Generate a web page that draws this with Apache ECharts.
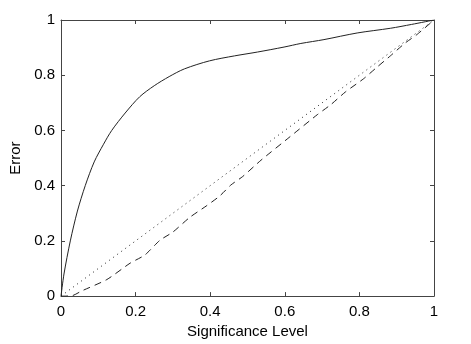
<!DOCTYPE html>
<html>
<head>
<meta charset="utf-8">
<script src="https://cdn.jsdelivr.net/npm/echarts@6/dist/echarts.min.js"></script>
<style>
  html, body { margin: 0; padding: 0; background: #fff; }
  #chart { width: 471px; height: 344px; }
</style>
</head>
<body>
<div id="chart"></div>
<script>
// values
const solidX = [0, 0.008, 0.025, 0.044, 0.065, 0.089, 0.114, 0.136, 0.172, 0.211, 0.25, 0.29, 0.331, 0.398, 0.465, 0.527, 0.598, 0.643, 0.705, 0.794, 0.883, 0.94, 1]
const solidY = [0, 0.08, 0.2, 0.308, 0.4, 0.486, 0.55, 0.6, 0.663, 0.722, 0.762, 0.795, 0.823, 0.852, 0.87, 0.884, 0.902, 0.915, 0.929, 0.953, 0.97, 0.984, 1]

const dottedX = [0, 1]
const dottedY = [0, 1]

const dashedX = [0, 0.029, 0.056, 0.123, 0.185, 0.225, 0.265, 0.30, 0.345, 0.389, 0.425, 0.456, 0.487, 0.536, 0.611, 0.687, 0.723, 0.763, 0.811, 0.847, 0.883, 0.923, 0.954, 1]
const dashedY = [0, 0.001, 0.019, 0.06, 0.119, 0.149, 0.202, 0.232, 0.285, 0.326, 0.362, 0.403, 0.433, 0.492, 0.574, 0.657, 0.693, 0.74, 0.787, 0.829, 0.87, 0.917, 0.947, 1]

const tickValues = [0, 0.2, 0.4, 0.6, 0.8, 1]

const FONT = 'Liberation Sans, Arial, Helvetica, sans-serif'
const LINE = '#222'
const AXIS = '#444'

const pairs = (xs, ys) => xs.map((x, i) => [x, ys[i]])

const chart = echarts.init(document.getElementById('chart'))

const mainAxis = (name, gap, pos, margin) => ({
  type: 'value',
  position: pos,
  min: 0,
  max: 1,
  interval: 0.2,
  name: name,
  nameLocation: 'middle',
  nameGap: gap,
  nameTextStyle: { color: '#000', fontSize: 15, fontFamily: FONT },
  axisLine: { show: true, onZero: false, lineStyle: { color: AXIS, width: 1 } },
  axisTick: { show: true, inside: true, length: 4, lineStyle: { color: AXIS } },
  axisLabel: {
    color: '#000', fontSize: 15, fontFamily: FONT, margin: margin,
    formatter: v => tickValues.includes(+v.toFixed(1)) ? String(+v.toFixed(1)) : ''
  },
  splitLine: { show: false }
})

const boxAxis = pos => ({
  type: 'value',
  position: pos,
  min: 0,
  max: 1,
  interval: 0.2,
  axisLine: { show: true, onZero: false, lineStyle: { color: AXIS, width: 1 } },
  axisTick: { show: true, inside: true, length: 4, lineStyle: { color: AXIS } },
  axisLabel: { show: false },
  splitLine: { show: false }
})

chart.setOption({
  animation: false,
  backgroundColor: '#fff',
  grid: { left: 59, right: 37, top: 20, bottom: 42 },
  xAxis: [mainAxis('Significance Level', 27, 'bottom', 8), boxAxis('top')],
  yAxis: [mainAxis('Error', 38, 'left', 6), boxAxis('right')],
  series: [
    {
      type: 'line',
      data: pairs(solidX, solidY),
      smooth: 0.3,
      symbol: 'none',
      lineStyle: { color: LINE, width: 1 }
    },
    {
      type: 'line',
      data: pairs(dottedX, dottedY),
      symbol: 'none',
      lineStyle: { color: LINE, width: 1, type: [1, 4] }
    },
    {
      type: 'line',
      data: pairs(dashedX, dashedY),
      smooth: 0.2,
      symbol: 'none',
      lineStyle: { color: LINE, width: 1, type: [7, 5] }
    }
  ]
})
</script>
</body>
</html>
